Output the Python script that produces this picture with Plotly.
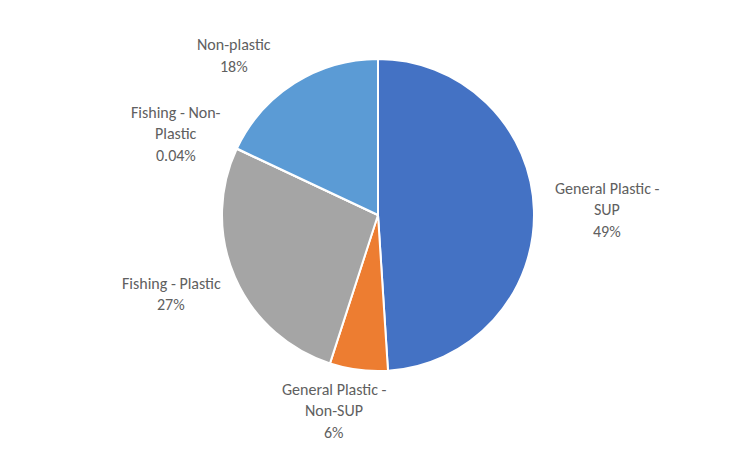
import plotly.graph_objects as go

# Litter composition shares (%)
categories = [
    "General Plastic - SUP",
    "General Plastic - Non-SUP",
    "Fishing - Plastic",
    "Fishing - Non-Plastic",
    "Non-plastic",
]
shares = [49, 6, 27, 0.04, 18]
slice_colors = ["#4472C4", "#ED7D31", "#A5A5A5", "#FFC000", "#5B9BD5"]

# How each category name wraps in its label
label_lines = [
    ["General Plastic -", "SUP"],
    ["General Plastic -", "Non-SUP"],
    ["Fishing - Plastic"],
    ["Fishing - Non-", "Plastic"],
    ["Non-plastic"],
]

W, H = 733, 462
# label anchor (centre x, first-line y) in pixels
label_anchor = [(607, 188), (334, 389), (171, 283), (176, 112), (234, 45)]
line_gap = 21.5

# pie geometry in pixels
cx, cy, r = 378, 215, 156

fig = go.Figure(
    go.Pie(
        labels=categories,
        values=shares,
        sort=False,
        direction="clockwise",
        rotation=0,
        marker=dict(colors=slice_colors, line=dict(color="white", width=2)),
        textinfo="none",
        hovertemplate="%{label}: %{value}%<extra></extra>",
        domain=dict(
            x=[(cx - r) / W, (cx + r) / W],
            y=[(H - cy - r) / H, (H - cy + r) / H],
        ),
    )
)

font = dict(family="Carlito, Liberation Sans Narrow, Open Sans, sans-serif", size=16, color="#606060")
annotations = []
for lines, share, (ax, ay) in zip(label_lines, shares, label_anchor):
    for i, txt in enumerate(lines + [f"{share:g}%"]):
        annotations.append(
            dict(
                x=ax / W,
                y=1 - (ay + i * line_gap) / H,
                xref="paper",
                yref="paper",
                text=txt,
                showarrow=False,
                xanchor="center",
                yanchor="middle",
                font=font,
            )
        )

fig.update_layout(
    width=W,
    height=H,
    margin=dict(l=0, r=0, t=0, b=0),
    paper_bgcolor="white",
    plot_bgcolor="white",
    showlegend=False,
    annotations=annotations,
)

fig.write_html("out.html")
